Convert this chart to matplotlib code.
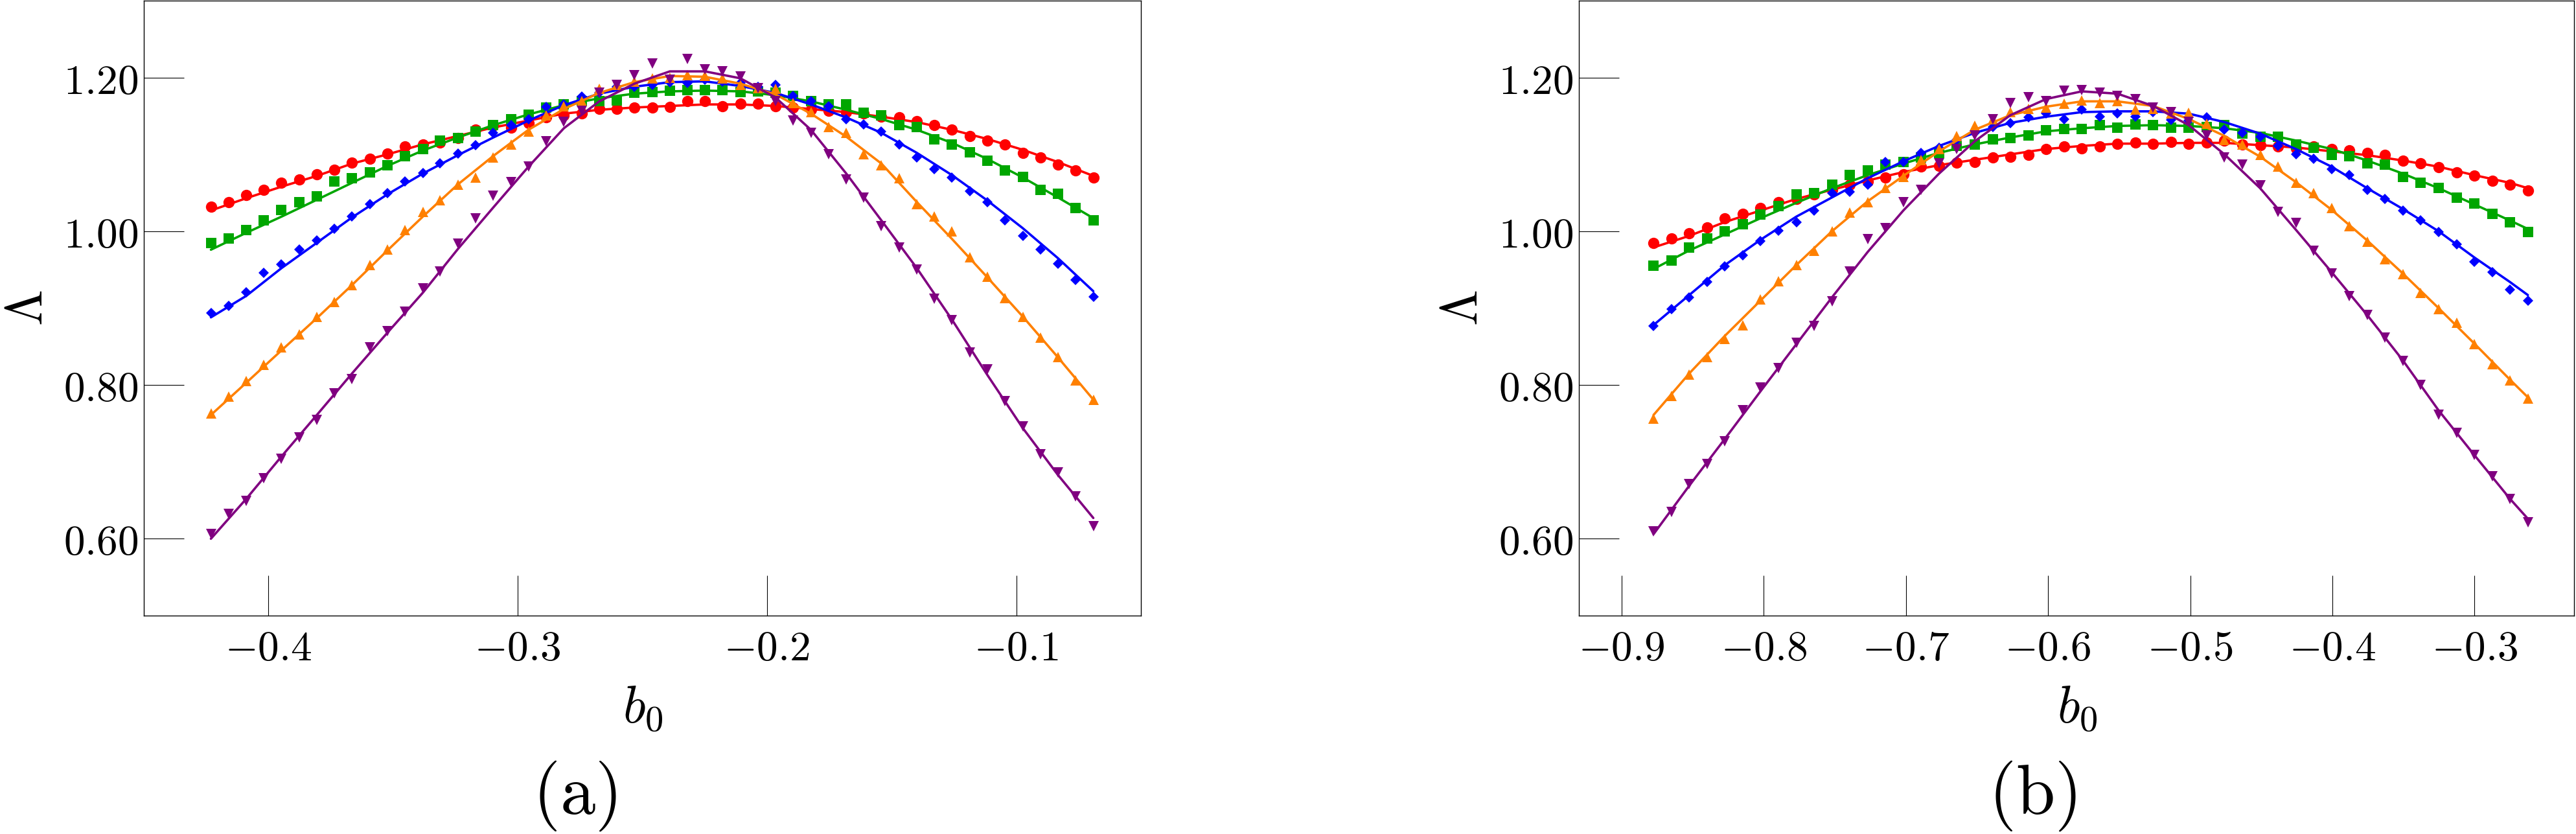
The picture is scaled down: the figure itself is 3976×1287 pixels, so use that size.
import matplotlib
matplotlib.use("Agg")
import matplotlib.pyplot as plt

plt.rcParams['mathtext.fontset'] = 'cm'
plt.rcParams['font.family'] = ['DejaVu Serif']

# ---------------- data: panel (a) ----------------
XA = [-0.4231, -0.4160, -0.4089, -0.4019, -0.3948, -0.3877, -0.3806, -0.3735, -0.3665, -0.3594,
      -0.3523, -0.3452, -0.3381, -0.3311, -0.3240, -0.3169, -0.3098, -0.3027, -0.2957, -0.2886,
      -0.2815, -0.2744, -0.2673, -0.2603, -0.2532, -0.2461, -0.2390, -0.2320, -0.2249, -0.2178,
      -0.2107, -0.2036, -0.1966, -0.1895, -0.1824, -0.1753, -0.1682, -0.1612, -0.1541, -0.1470,
      -0.1399, -0.1328, -0.1258, -0.1187, -0.1116, -0.1045, -0.0974, -0.0904, -0.0833, -0.0762,
      -0.0691]
XA_FIT = XA[::2]

RED_A = [1.032, 1.038, 1.047, 1.054, 1.063, 1.067, 1.074, 1.080, 1.089, 1.094,
         1.101, 1.110, 1.113, 1.115, 1.121, 1.132, 1.137, 1.135, 1.141, 1.148,
         1.151, 1.153, 1.159, 1.159, 1.161, 1.161, 1.162, 1.169, 1.169, 1.163,
         1.166, 1.166, 1.163, 1.161, 1.158, 1.157, 1.155, 1.153, 1.149, 1.148,
         1.143, 1.138, 1.132, 1.124, 1.118, 1.113, 1.102, 1.096, 1.087, 1.079, 1.070]
RED_A_FIT = [1.027, 1.043, 1.058, 1.072, 1.088, 1.100, 1.113, 1.124, 1.135, 1.144, 1.153, 1.158, 1.161,
             1.163, 1.165, 1.165, 1.163, 1.159, 1.155, 1.149, 1.142, 1.132, 1.120, 1.106, 1.090, 1.072]

GREEN_A = [0.985, 0.991, 1.002, 1.014, 1.028, 1.038, 1.045, 1.065, 1.069, 1.077,
           1.086, 1.098, 1.107, 1.118, 1.121, 1.130, 1.138, 1.146, 1.152, 1.161,
           1.165, 1.169, 1.169, 1.170, 1.180, 1.181, 1.183, 1.184, 1.184, 1.184,
           1.181, 1.182, 1.180, 1.176, 1.169, 1.165, 1.165, 1.154, 1.151, 1.138,
           1.136, 1.120, 1.113, 1.103, 1.092, 1.079, 1.071, 1.054, 1.049, 1.030, 1.014]
GREEN_A_FIT = [0.976, 0.998, 1.019, 1.041, 1.063, 1.085, 1.105, 1.122, 1.138, 1.152, 1.164, 1.173, 1.179,
               1.182, 1.183, 1.182, 1.177, 1.169, 1.158, 1.146, 1.132, 1.115, 1.094, 1.070, 1.044, 1.017]

BLUE_A = [0.894, 0.903, 0.921, 0.946, 0.957, 0.976, 0.988, 1.003, 1.019, 1.035,
          1.050, 1.065, 1.076, 1.088, 1.101, 1.112, 1.128, 1.138, 1.146, 1.162,
          1.165, 1.175, 1.180, 1.188, 1.188, 1.190, 1.194, 1.193, 1.197, 1.195,
          1.193, 1.188, 1.190, 1.176, 1.169, 1.163, 1.146, 1.139, 1.130, 1.113,
          1.096, 1.081, 1.070, 1.052, 1.038, 1.014, 0.994, 0.976, 0.958, 0.937, 0.915]
BLUE_A_FIT = [0.888, 0.916, 0.952, 0.985, 1.018, 1.048, 1.075, 1.099, 1.122, 1.144, 1.164, 1.179, 1.188,
              1.194, 1.195, 1.189, 1.180, 1.165, 1.148, 1.128, 1.102, 1.073, 1.040, 1.004, 0.965, 0.922]

ORANGE_A = [0.763, 0.785, 0.805, 0.826, 0.849, 0.866, 0.889, 0.908, 0.930, 0.956,
            0.976, 1.002, 1.025, 1.040, 1.061, 1.070, 1.096, 1.113, 1.130, 1.151,
            1.163, 1.169, 1.185, 1.190, 1.195, 1.199, 1.200, 1.203, 1.202, 1.199,
            1.190, 1.186, 1.185, 1.167, 1.155, 1.136, 1.128, 1.100, 1.086, 1.069,
            1.035, 1.019, 1.000, 0.966, 0.941, 0.913, 0.889, 0.862, 0.836, 0.806, 0.781]
ORANGE_A_FIT = [0.761, 0.803, 0.845, 0.887, 0.930, 0.975, 1.019, 1.061, 1.098, 1.132, 1.159, 1.180, 1.194,
                1.202, 1.201, 1.192, 1.178, 1.153, 1.123, 1.088, 1.038, 0.990, 0.940, 0.889, 0.836, 0.781]

PURPLE_A = [0.606, 0.632, 0.649, 0.679, 0.704, 0.732, 0.755, 0.789, 0.808, 0.849,
            0.870, 0.895, 0.926, 0.948, 0.984, 1.017, 1.046, 1.064, 1.084, 1.117,
            1.142, 1.157, 1.180, 1.190, 1.203, 1.218, 1.197, 1.224, 1.211, 1.208,
            1.201, 1.186, 1.169, 1.144, 1.128, 1.100, 1.067, 1.044, 1.007, 0.979,
            0.950, 0.912, 0.884, 0.842, 0.820, 0.779, 0.746, 0.710, 0.686, 0.655, 0.616]
PURPLE_A_FIT = [0.600, 0.652, 0.707, 0.761, 0.815, 0.868, 0.920, 0.977, 1.031, 1.084, 1.134, 1.169, 1.192,
                1.208, 1.208, 1.199, 1.174, 1.132, 1.075, 1.014, 0.952, 0.885, 0.813, 0.744, 0.683, 0.627]

# ---------------- data: panel (b) ----------------
XB = [-0.8775, -0.8649, -0.8524, -0.8398, -0.8273, -0.8147, -0.8022, -0.7896, -0.7771, -0.7645,
      -0.7520, -0.7394, -0.7269, -0.7143, -0.7018, -0.6892, -0.6767, -0.6641, -0.6516, -0.6390,
      -0.6265, -0.6139, -0.6014, -0.5888, -0.5763, -0.5637, -0.5512, -0.5386, -0.5261, -0.5135,
      -0.5010, -0.4884, -0.4759, -0.4633, -0.4508, -0.4382, -0.4257, -0.4131, -0.4006, -0.3880,
      -0.3755, -0.3629, -0.3504, -0.3378, -0.3253, -0.3127, -0.3002, -0.2876, -0.2751, -0.2625]
XB_FIT = XB[::2] + [XB[-1]]

RED_B = [0.985, 0.991, 0.997, 1.005, 1.017, 1.023, 1.030, 1.038, 1.042, 1.048,
         1.054, 1.061, 1.065, 1.070, 1.074, 1.084, 1.085, 1.089, 1.090, 1.096,
         1.097, 1.099, 1.107, 1.110, 1.108, 1.110, 1.114, 1.115, 1.114, 1.116,
         1.114, 1.115, 1.118, 1.113, 1.112, 1.110, 1.108, 1.110, 1.107, 1.105,
         1.102, 1.099, 1.092, 1.088, 1.083, 1.077, 1.072, 1.066, 1.061, 1.053]
RED_B_FIT = [0.979, 0.994, 1.012, 1.027, 1.042, 1.054, 1.066, 1.077, 1.086, 1.093, 1.100, 1.107, 1.111,
             1.114, 1.114, 1.115, 1.115, 1.112, 1.109, 1.104, 1.099, 1.092, 1.084, 1.073, 1.063, 1.056]

GREEN_B = [0.955, 0.962, 0.979, 0.991, 1.000, 1.009, 1.022, 1.033, 1.048, 1.050,
           1.061, 1.073, 1.079, 1.087, 1.090, 1.096, 1.102, 1.111, 1.113, 1.120,
           1.121, 1.125, 1.131, 1.133, 1.133, 1.138, 1.135, 1.139, 1.138, 1.135,
           1.135, 1.136, 1.138, 1.127, 1.123, 1.123, 1.113, 1.109, 1.099, 1.098,
           1.088, 1.087, 1.071, 1.063, 1.056, 1.044, 1.036, 1.023, 1.012, 0.999]
GREEN_B_FIT = [0.951, 0.975, 0.996, 1.017, 1.037, 1.056, 1.073, 1.088, 1.102, 1.113, 1.122, 1.130, 1.134,
               1.137, 1.138, 1.137, 1.134, 1.128, 1.118, 1.107, 1.092, 1.075, 1.056, 1.035, 1.014, 1.003]

BLUE_B = [0.877, 0.899, 0.914, 0.934, 0.954, 0.969, 0.987, 1.001, 1.012, 1.027,
          1.050, 1.051, 1.061, 1.090, 1.090, 1.102, 1.109, 1.119, 1.128, 1.136,
          1.141, 1.148, 1.153, 1.146, 1.158, 1.149, 1.153, 1.149, 1.155, 1.145,
          1.144, 1.148, 1.132, 1.128, 1.123, 1.111, 1.100, 1.094, 1.081, 1.073,
          1.054, 1.042, 1.027, 1.014, 0.999, 0.983, 0.960, 0.947, 0.924, 0.910]
BLUE_B_FIT = [0.878, 0.917, 0.956, 0.989, 1.019, 1.044, 1.069, 1.091, 1.111, 1.128, 1.141, 1.149, 1.155,
              1.156, 1.156, 1.153, 1.142, 1.127, 1.107, 1.084, 1.056, 1.029, 1.000, 0.966, 0.934, 0.917]

ORANGE_B = [0.756, 0.786, 0.814, 0.836, 0.860, 0.878, 0.911, 0.935, 0.956, 0.975,
            1.000, 1.024, 1.038, 1.056, 1.071, 1.093, 1.107, 1.124, 1.137, 1.146,
            1.155, 1.159, 1.161, 1.166, 1.170, 1.167, 1.169, 1.158, 1.159, 1.153,
            1.154, 1.140, 1.119, 1.113, 1.099, 1.084, 1.063, 1.050, 1.030, 1.007,
            0.986, 0.964, 0.944, 0.920, 0.899, 0.881, 0.853, 0.827, 0.806, 0.782]
ORANGE_B_FIT = [0.761, 0.815, 0.864, 0.910, 0.956, 1.000, 1.039, 1.072, 1.104, 1.132, 1.151, 1.162, 1.169,
                1.169, 1.163, 1.146, 1.124, 1.097, 1.064, 1.028, 0.988, 0.945, 0.900, 0.854, 0.807, 0.784]

PURPLE_B = [0.610, 0.635, 0.671, 0.697, 0.727, 0.767, 0.797, 0.822, 0.855, 0.877,
            0.909, 0.948, 0.990, 1.004, 1.038, 1.054, 1.088, 1.107, 1.125, 1.146,
            1.167, 1.174, 1.169, 1.183, 1.184, 1.180, 1.176, 1.172, 1.161, 1.155,
            1.142, 1.125, 1.096, 1.087, 1.060, 1.025, 1.011, 0.975, 0.945, 0.916,
            0.891, 0.862, 0.831, 0.800, 0.761, 0.738, 0.709, 0.681, 0.652, 0.621]
PURPLE_B_FIT = [0.606, 0.669, 0.730, 0.792, 0.853, 0.914, 0.973, 1.027, 1.075, 1.117, 1.151, 1.172, 1.182,
                1.179, 1.163, 1.138, 1.100, 1.056, 1.002, 0.947, 0.891, 0.832, 0.767, 0.709, 0.652, 0.626]

XTICKS_A = [-0.4, -0.3, -0.2, -0.1]
XTICKLABELS_A = [r'$-0.4$', r'$-0.3$', r'$-0.2$', r'$-0.1$']
XTICKS_B = [-0.9, -0.8, -0.7, -0.6, -0.5, -0.4, -0.3]
XTICKLABELS_B = [r'$-0.9$', r'$-0.8$', r'$-0.7$', r'$-0.6$', r'$-0.5$', r'$-0.4$', r'$-0.3$']
YTICKS = [0.6, 0.8, 1.0, 1.2]
YTICKLABELS = [r'$0.60$', r'$0.80$', r'$1.00$', r'$1.20$']

COLORS = ['#ff0000', '#00a600', '#0000ff', '#ff8000', '#800080']
MARKERS = ['o', 's', 'D', '^', 'v']
MSIZES = [12.5, 12.0, 7.8, 12.0, 12.0]

# ---------------- figure ----------------
fig = plt.figure(figsize=(39.76, 12.87), dpi=100)
axA = fig.add_axes([0.05584, 0.26185, 0.38707, 0.73737])
axB = fig.add_axes([0.61293, 0.26185, 0.38632, 0.73737])

panels = [
    (axA, XA, XA_FIT, [RED_A, GREEN_A, BLUE_A, ORANGE_A, PURPLE_A],
     [RED_A_FIT, GREEN_A_FIT, BLUE_A_FIT, ORANGE_A_FIT, PURPLE_A_FIT],
     (-0.45, -0.05), XTICKS_A, XTICKLABELS_A),
    (axB, XB, XB_FIT, [RED_B, GREEN_B, BLUE_B, ORANGE_B, PURPLE_B],
     [RED_B_FIT, GREEN_B_FIT, BLUE_B_FIT, ORANGE_B_FIT, PURPLE_B_FIT],
     (-0.93, -0.23), XTICKS_B, XTICKLABELS_B),
]

for ax, xs, xf, ys_list, fit_list, xlim, xt, xtl in panels:
    for ys, yf, c, m, ms in zip(ys_list, fit_list, COLORS, MARKERS, MSIZES):
        ax.plot(xf, yf, '-', color=c, lw=2.6, solid_capstyle='round')
        ax.plot(xs, ys, linestyle='none', marker=m, ms=ms, color=c, mec=c, mew=0)
    ax.set_xlim(*xlim)
    ax.set_ylim(0.5, 1.3)
    ax.set_xticks(xt)
    ax.set_xticklabels(xtl)
    ax.set_yticks(YTICKS)
    ax.set_yticklabels(YTICKLABELS)
    ax.tick_params(axis='both', which='major', direction='in', length=44.6, width=0.8,
                   labelsize=47, top=False, right=False)
    ax.tick_params(axis='x', pad=14)
    ax.tick_params(axis='y', pad=6)
    ax.minorticks_off()
    for sp in ax.spines.values():
        sp.set_linewidth(1.0)

# axis labels and panel tags
fig.text(43 / 3976, 0.6309, r'$\Lambda$', rotation=90, ha='center', va='center', fontsize=58)
fig.text(2258 / 3976, 0.6309, r'$\Lambda$', rotation=90, ha='center', va='center', fontsize=58)
fig.text(992 / 3976, 0.13365, r'$b_0$', ha='center', va='baseline', fontsize=58)
fig.text(3206 / 3976, 0.13365, r'$b_0$', ha='center', va='baseline', fontsize=58)
fig.text(887 / 3976, 0.0245, r'$\mathrm{(a)}$', ha='center', va='baseline', fontsize=78)
fig.text(3137 / 3976, 0.0245, r'$\mathrm{(b)}$', ha='center', va='baseline', fontsize=78)

fig.savefig('out.png', dpi=100, facecolor='white')
